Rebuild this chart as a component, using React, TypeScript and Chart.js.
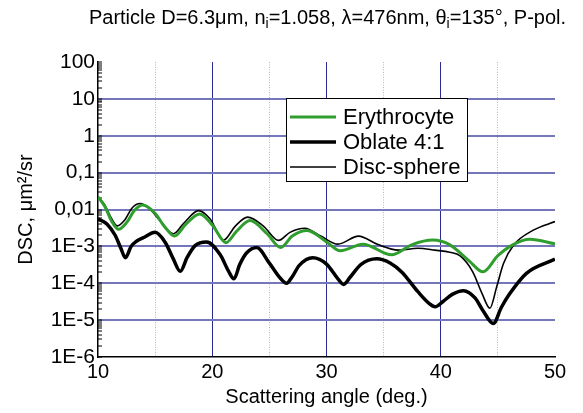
import React, { useEffect, useRef } from 'react';
import { Chart, registerables } from 'chart.js';

Chart.register(...registerables);

// ---- data (scattering angle in degrees, DSC in µm²/sr) ----
const ERY_ANGLE = [10, 10.6, 11.2, 11.8, 12.5, 13.2, 13.9, 15.0, 15.8, 16.7, 17.7, 18.9, 20.0, 21.2, 22.1, 23.3, 24.8, 26.0, 27.0, 28.3, 30.0, 31.2, 33.2, 35.7, 37.5, 39.3, 40.8, 42.5, 43.7, 45.0, 46.3, 47.8, 50];
const ERY_DSC = [0.022, 0.012, 0.0048, 0.0029, 0.0044, 0.0095, 0.0132, 0.0079, 0.0035, 0.0019, 0.004, 0.0076, 0.0038, 0.00126, 0.0025, 0.005, 0.0022, 0.00093, 0.0019, 0.0027, 0.00132, 0.00076, 0.00115, 0.00059, 0.00112, 0.00148, 0.0011, 0.0004, 0.000204, 0.00056, 0.0011, 0.00155, 0.00117];

const OBL_ANGLE = [10, 10.8, 11.5, 12.0, 12.4, 12.9, 13.4, 14.0, 15.0, 15.9, 16.6, 17.2, 17.8, 18.5, 19.5, 20.7, 21.4, 21.9, 22.4, 23.0, 23.9, 25.0, 26.0, 26.5, 27.0, 27.6, 28.8, 30.0, 31.0, 31.5, 32.1, 33.0, 34.4, 35.6, 36.6, 38.0, 39.0, 39.5, 40.2, 41.0, 42.0, 43.0, 43.7, 44.6, 45.3, 46.0, 47.5, 50];
const OBL_DSC = [0.0056, 0.004, 0.002, 0.00089, 0.00049, 0.001, 0.0014, 0.00174, 0.0024, 0.00126, 0.00045, 0.00021, 0.0005, 0.00105, 0.00132, 0.00059, 0.00022, 0.000132, 0.00032, 0.00066, 0.00093, 0.00035, 0.000132, 0.0001, 0.00015, 0.0003, 0.00049, 0.00033, 0.000132, 0.000093, 0.00015, 0.00032, 0.00046, 0.00035, 0.0002, 0.000059, 0.000028, 0.000023, 0.000032, 0.00005, 0.000063, 0.00004, 0.000018, 0.0000081, 0.000022, 0.00005, 0.000186, 0.00045];

const DSS_ANGLE = [10, 10.6, 11.2, 11.7, 12.3, 13.0, 13.7, 14.5, 15.5, 16.6, 17.5, 18.8, 19.8, 21.0, 22.0, 23.1, 24.5, 25.8, 26.8, 28.1, 29.5, 31.0, 32.8, 34.5, 36.3, 38.0, 39.5, 40.8, 41.7, 42.8, 43.6, 44.3, 44.9, 45.5, 46.4, 48.1, 50];
const DSS_DSC = [0.022, 0.0132, 0.0056, 0.0036, 0.005, 0.0112, 0.0145, 0.0105, 0.0047, 0.0022, 0.0042, 0.0093, 0.0056, 0.00148, 0.0035, 0.0062, 0.0035, 0.00145, 0.0024, 0.0031, 0.0019, 0.00115, 0.0019, 0.00112, 0.00079, 0.00089, 0.00079, 0.00069, 0.00055, 0.000204, 0.000054, 0.000021, 0.000081, 0.000347, 0.0011, 0.00275, 0.0047];

const SERIES_LABELS = ['Erythrocyte', 'Oblate 4:1', 'Disc-sphere'];

const X_TICKS = [10, 20, 30, 40, 50];
const X_TICK_LABELS = ['10', '20', '30', '40', '50'];
const X_MINOR_TICKS = [15, 25, 35, 45];

const Y_DECADES = [1e-6, 1e-5, 1e-4, 1e-3, 1e-2, 1e-1, 1, 10, 100];
const Y_TICK_LABELS = ['1E-6', '1E-5', '1E-4', '1E-3', '0,01', '0,1', '1', '10', '100'];

const TITLE_PARTS = [
  { text: 'Particle D=6.3\u03bcm, n', sub: false },
  { text: 'i', sub: true },
  { text: '=1.058, \u03bb=476nm, \u03b8', sub: false },
  { text: 'i', sub: true },
  { text: '=135\u00b0, P-pol.', sub: false },
];
const X_TITLE = 'Scattering angle (deg.)';
const Y_TITLE = 'DSC, \u03bcm\u00b2/sr';

const FONT = '"Liberation Sans", Arial, Helvetica, sans-serif';
const GREEN = '#2f9e2f';
const GRID_H = '#7676bb';
const GRID_V = '#2a2a92';
const GRID_DOT = '#b2b2e0';

const decadeIndex = (v: number) => {
  for (let i = 0; i < Y_DECADES.length; i++) {
    if (Math.abs(Math.log10(v) - Math.log10(Y_DECADES[i])) < 1e-6) return i;
  }
  return -1;
};

// minor + major tick positions on log axis (1..9 per decade)
const Y_ALL_TICKS: number[] = [];
for (let i = 0; i < Y_DECADES.length - 1; i++) {
  for (let m = 1; m < 10; m++) Y_ALL_TICKS.push(Y_DECADES[i] * m);
}
Y_ALL_TICKS.push(Y_DECADES[Y_DECADES.length - 1]);

const toPoints = (xs: number[], ys: number[]) => xs.map((x, i) => ({ x, y: ys[i] }));

const decorPlugin = {
  id: 'decor',
  afterDraw(chart: any) {
    const { ctx, chartArea } = chart;
    ctx.save();
    // Title with subscripts
    const mainFont = `20px ${FONT}`;
    const subFont = `14px ${FONT}`;
    let total = 0;
    for (const p of TITLE_PARTS) {
      ctx.font = p.sub ? subFont : mainFont;
      total += ctx.measureText(p.text).width;
    }
    let x = (chartArea.left + chartArea.right) / 2 - total / 2 + 1;
    const baseY = 24;
    ctx.fillStyle = '#000';
    ctx.textBaseline = 'alphabetic';
    ctx.textAlign = 'left';
    for (const p of TITLE_PARTS) {
      ctx.font = p.sub ? subFont : mainFont;
      ctx.fillText(p.text, x, p.sub ? baseY + 4 : baseY);
      x += ctx.measureText(p.text).width;
    }
    // Legend box
    const bx = 286.5, by = 98.5, bw = 181, bh = 83;
    ctx.fillStyle = '#fff';
    ctx.fillRect(bx, by, bw, bh);
    ctx.strokeStyle = '#000';
    ctx.lineWidth = 1;
    ctx.strokeRect(bx, by, bw, bh);
    const rows = [117, 142, 167];
    chart.data.datasets.forEach((ds: any, i: number) => {
      const y = rows[i];
      ctx.beginPath();
      ctx.strokeStyle = ds.borderColor;
      ctx.lineWidth = ds.borderWidth;
      ctx.moveTo(290, y);
      ctx.lineTo(336, y);
      ctx.stroke();
      ctx.fillStyle = '#000';
      ctx.font = `22px ${FONT}`;
      ctx.textBaseline = 'middle';
      ctx.fillText(ds.label, 343, y + 1);
    });
    ctx.restore();
  },
};

export default function App() {
  const canvasRef = useRef<HTMLCanvasElement | null>(null);

  useEffect(() => {
    const canvas = canvasRef.current;
    if (!canvas) return;
    const chart = new Chart(canvas, {
      type: 'line',
      data: {
        datasets: [
          {
            label: SERIES_LABELS[0],
            data: toPoints(ERY_ANGLE, ERY_DSC),
            borderColor: GREEN,
            borderWidth: 3,
            order: 0,
          },
          {
            label: SERIES_LABELS[1],
            data: toPoints(OBL_ANGLE, OBL_DSC),
            borderColor: '#000',
            borderWidth: 3.5,
            order: 2,
          },
          {
            label: SERIES_LABELS[2],
            data: toPoints(DSS_ANGLE, DSS_DSC),
            borderColor: '#000',
            borderWidth: 1.6,
            order: 1,
          },
        ],
      },
      options: {
        responsive: false,
        maintainAspectRatio: false,
        devicePixelRatio: 1,
        animation: false,
        parsing: false as any,
        elements: {
          point: { radius: 0 },
          line: { cubicInterpolationMode: 'monotone', fill: false },
        },
        layout: { padding: { top: 62, right: 28, bottom: 0, left: 0 } },
        plugins: {
          legend: { display: false },
          title: { display: false },
          tooltip: { enabled: false },
        },
        scales: {
          x: {
            type: 'linear',
            position: 'bottom',
            min: 10,
            max: 50,
            afterBuildTicks: (scale: any) => {
              scale.ticks = X_TICKS.map((v) => ({ value: v }));
            },
            afterFit: (scale: any) => {
              scale.height = 56;
            },
            ticks: {
              autoSkip: false,
              maxRotation: 0,
              padding: 3,
              color: '#000',
              font: { family: FONT, size: 20 },
              callback: (_v: any, i: number) => X_TICK_LABELS[i],
            },
            grid: {
              drawTicks: false,
              lineWidth: 1,
              color: (c: any) =>
                c.tick && (c.tick.value === X_TICKS[0] || c.tick.value === X_TICKS[X_TICKS.length - 1])
                  ? 'rgba(0,0,0,0)'
                  : GRID_V,
            },
            border: { color: '#000', width: 1.5 },
            title: {
              display: true,
              text: X_TITLE,
              color: '#000',
              font: { family: FONT, size: 20 },
              padding: { top: 0, bottom: 4 },
            },
          },
          x2: {
            type: 'linear',
            position: 'top',
            min: 10,
            max: 50,
            afterBuildTicks: (scale: any) => {
              scale.ticks = X_MINOR_TICKS.map((v) => ({ value: v }));
            },
            afterFit: (scale: any) => {
              scale.height = 0;
            },
            ticks: { display: false },
            grid: { drawTicks: false, color: GRID_DOT, lineWidth: 1 },
            border: { display: false, dash: [1, 1.5] },
          },
          y: {
            type: 'logarithmic',
            position: 'left',
            min: Y_DECADES[0],
            max: Y_DECADES[Y_DECADES.length - 1],
            afterBuildTicks: (scale: any) => {
              scale.ticks = Y_ALL_TICKS.map((v) => ({ value: v }));
            },
            afterFit: (scale: any) => {
              scale.width = 98;
            },
            ticks: {
              autoSkip: false,
              padding: 7,
              color: '#000',
              font: { family: FONT, size: 21 },
              callback: (v: any) => {
                const i = decadeIndex(Number(v));
                return i >= 0 ? Y_TICK_LABELS[i] : '';
              },
            },
            grid: {
              drawTicks: true,
              tickLength: -4,
              tickColor: '#000',
              tickWidth: 1,
              lineWidth: 2,
              color: (c: any) => {
                if (!c.tick) return 'rgba(0,0,0,0)';
                const i = decadeIndex(c.tick.value);
                return i > 0 && i < Y_DECADES.length - 1 ? GRID_H : 'rgba(0,0,0,0)';
              },
            },
            border: { color: '#000', width: 1.5 },
            title: {
              display: true,
              text: Y_TITLE,
              color: '#000',
              font: { family: FONT, size: 20 },
              padding: { top: 14, bottom: 0 },
            },
          },
        },
      } as any,
      plugins: [decorPlugin],
    });
    return () => chart.destroy();
  }, []);

  return (
    <div style={{ position: 'absolute', left: 0, top: 0, width: 583, height: 413, background: '#fff' }}>
      <canvas ref={canvasRef} width={583} height={413} style={{ display: 'block' }} />
    </div>
  );
}
